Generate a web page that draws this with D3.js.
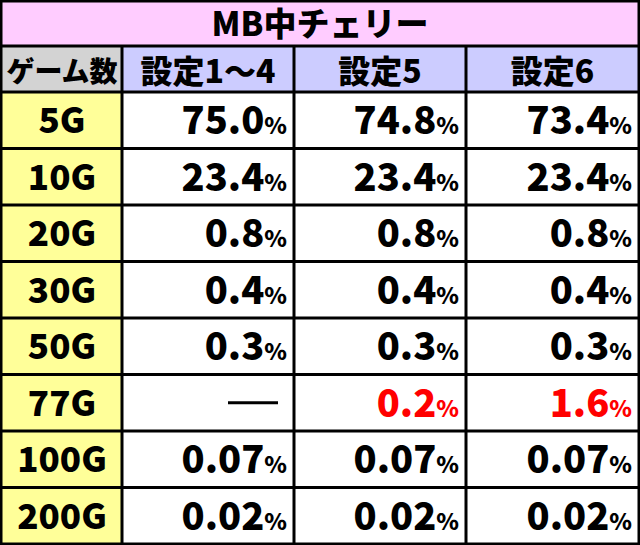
<!DOCTYPE html>
<html><head><meta charset="utf-8">
<script src="https://cdn.jsdelivr.net/npm/d3@7"></script>
<style>body{margin:0;background:#fff}</style>
</head><body><div id="chart"></div>
<script>
var title = "MB中チェリー";
var rowHeader = "ゲーム数";
var settings = ["設定1～4", "設定5", "設定6"];
var games = ["5G", "10G", "20G", "30G", "50G", "77G", "100G", "200G"];
var set14 = ["75.0", "23.4", "0.8", "0.4", "0.3", null, "0.07", "0.02"];
var set5 = ["74.8", "23.4", "0.8", "0.4", "0.3", "0.2", "0.07", "0.02"];
var set6 = ["73.4", "23.4", "0.8", "0.4", "0.3", "1.6", "0.07", "0.02"];
var redRows = ["77G"];

var width = 640, height = 545;
var font = "'Noto Sans CJK JP', sans-serif";
var svg = d3.select("#chart").append("svg").attr("width", width).attr("height", height);

var cols = [[1, 122], [122, 294], [294, 466], [466, 639]];
var rowY = d3.scaleBand().domain(games).range([92, 544]);
var series = [set14, set5, set6];

// title
svg.append("rect").attr("x", 1).attr("y", 1).attr("width", 638).attr("height", 45).attr("fill", "#ffccff");
svg.append("text").text(title).attr("x", 320).attr("y", 36).attr("text-anchor", "middle")
    .attr("font-family", font).attr("font-weight", 900).attr("font-size", "33px");

// header
svg.append("rect").attr("x", 1).attr("y", 46).attr("width", 121).attr("height", 46).attr("fill", "#d3d3d3");
svg.append("text").text(rowHeader).attr("x", 62).attr("y", 82).attr("text-anchor", "middle")
    .attr("font-family", font).attr("font-weight", 900).attr("font-size", "28px");
settings.forEach(function(s, i) {
    var c = cols[i + 1];
    svg.append("rect").attr("x", c[0]).attr("y", 46).attr("width", c[1] - c[0]).attr("height", 46).attr("fill", "#ccccff");
    svg.append("text").text(s).attr("x", (c[0] + c[1]) / 2).attr("y", 83).attr("text-anchor", "middle")
        .attr("font-family", font).attr("font-weight", 900).attr("font-size", "32px");
});

// rows
games.forEach(function(g, r) {
    var y = rowY(g), h = rowY.bandwidth();
    svg.append("rect").attr("x", 1).attr("y", y).attr("width", 121).attr("height", h).attr("fill", "#ffff99");
    svg.append("text").text(g).attr("x", 62).attr("y", y + h / 2 + 13).attr("text-anchor", "middle")
        .attr("font-family", font).attr("font-weight", 900).attr("font-size", "35px");
    series.forEach(function(vals, i) {
        var c = cols[i + 1];
        var v = vals[r];
        if (v === null) {
            svg.append("line").attr("x1", c[1] - 66).attr("x2", c[1] - 16)
                .attr("y1", y + h / 2).attr("y2", y + h / 2).attr("stroke", "#000").attr("stroke-width", 3);
            return;
        }
        var red = redRows.indexOf(g) >= 0;
        var t = svg.append("text").attr("x", c[1] - 7).attr("y", y + h / 2 + 14).attr("text-anchor", "end")
            .attr("font-family", font).attr("font-weight", 900).attr("fill", red ? "#ff0000" : "#000");
        t.append("tspan").text(v).attr("font-size", "38px");
        t.append("tspan").text("%").attr("font-size", "23px");
    });
});

// grid lines
var hl = [1, 46, 92].concat(games.map(function(g) { return rowY(g) + rowY.bandwidth(); }));
hl.forEach(function(y) {
    svg.append("line").attr("x1", 0).attr("x2", width).attr("y1", y).attr("y2", y)
        .attr("stroke", "#000").attr("stroke-width", 3);
});
[1, 122, 294, 466, 639].forEach(function(x, i) {
    svg.append("line").attr("x1", x).attr("x2", x).attr("y1", i == 0 || i == 4 ? 0 : 46).attr("y2", height)
        .attr("stroke", "#000").attr("stroke-width", 3);
});
</script></body></html>
